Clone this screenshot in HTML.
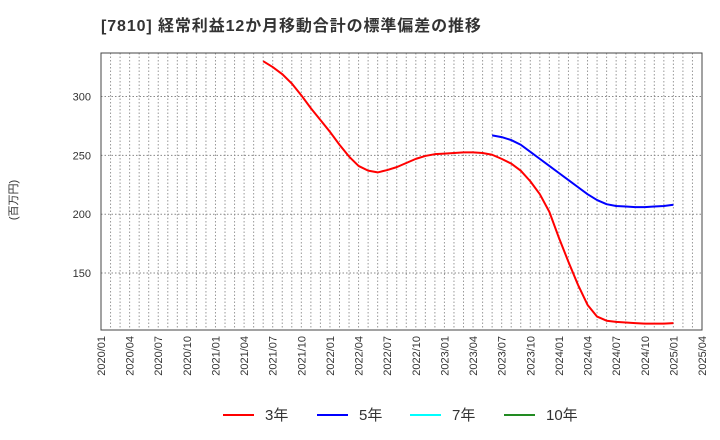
<!DOCTYPE html>
<html><head><meta charset="utf-8"><style>
body{margin:0;background:#fff;}
svg{display:block;font-family:"Liberation Sans","Noto Sans CJK JP",sans-serif;}
</style></head><body>
<svg id="c" width="720" height="440">
<text x="101" y="31" font-size="16" letter-spacing="0.9" font-weight="bold" fill="#333">[7810]  経常利益12か月移動合計の標準偏差の推移</text>
<text transform="translate(17,200) rotate(-90)" text-anchor="middle" font-size="11" fill="#333">(百万円)</text>
<g id="grid"></g><g id="axes"></g><g id="series"></g><g id="legend"></g>
</svg>
<script>
const yTicks=[150,200,250,300];
const xLabels=["2020/01","2020/04","2020/07","2020/10","2021/01","2021/04","2021/07","2021/10","2022/01","2022/04","2022/07","2022/10","2023/01","2023/04","2023/07","2023/10","2024/01","2024/04","2024/07","2024/10","2025/01","2025/04"];
const red3Start=17;
const red3=[330,325,319,311,301,290,280,270,259,249,241,237,235.5,237.5,240,243.5,247,249.5,251,251.5,252,252.5,252.5,252,250.5,247,243,237,228,217,202,180,159.5,140,123,113,109.5,108.5,108,107.5,107,107,107,107.5];
const blue5Start=41;
const blue5=[267,265.5,263,259,253,247,241,235,229,223,217,212,208.5,207,206.5,206,206,206.5,207,208];
const NS="http://www.w3.org/2000/svg";
const L=101,R=702,T=53,B=330;
const xS=m=>L+m*(R-L)/63;
const yS=v=>96.5+(300-v)*1.177;
function mk(tag,attrs,parent){const e=document.createElementNS(NS,tag);for(const k in attrs)e.setAttribute(k,attrs[k]);parent.appendChild(e);return e;}
const grid=document.getElementById('grid'),axes=document.getElementById('axes'),ser=document.getElementById('series'),leg=document.getElementById('legend');
for(let m=1;m<63;m++){const g=mk('line',{x1:xS(m),x2:xS(m),y1:T,y2:B,stroke:'#999','stroke-dasharray':'1.5,2','stroke-width':1},grid);

}
yTicks.forEach(v=>{const g=mk('line',{x1:L,x2:R,y1:yS(v),y2:yS(v),stroke:'#888','stroke-dasharray':'1.5,2','stroke-width':1},grid);


const t=mk('text',{x:L-10,y:yS(v)+4,'text-anchor':'end','font-size':11,fill:'#333'},axes);t.textContent=v;

});
xLabels.forEach((s,i)=>{const x=xS(i*3);const t=mk('text',{transform:`translate(${x+4},${B+6}) rotate(-90)`,'text-anchor':'end','font-size':11,fill:'#333'},axes);t.textContent=s;

});
const fr=mk('rect',{x:L,y:T,width:R-L,height:B-T,fill:'none',stroke:'#444','stroke-width':1},axes);


function line(arr,start,color,name){const p=mk('polyline',{points:arr.map((v,i)=>xS(start+i)+','+yS(v)).join(' '),fill:'none',stroke:color,'stroke-width':2,'stroke-linejoin':'round'},ser);

}
line(red3,red3Start,'#f00','series-3y');
line(blue5,blue5Start,'#00f','series-5y');
const legItems=[['3年','#f00',223],['5年','#00f',317],['7年','#0ff',410],['10年','#228b22',504]];
legItems.forEach(([lab,col,x])=>{const l=mk('line',{x1:x,x2:x+31,y1:415,y2:415,stroke:col,'stroke-width':2},leg);


const t=mk('text',{x:x+42,y:420,'font-size':15,fill:'#333'},leg);t.textContent=lab;

});
</script>
</body></html>
